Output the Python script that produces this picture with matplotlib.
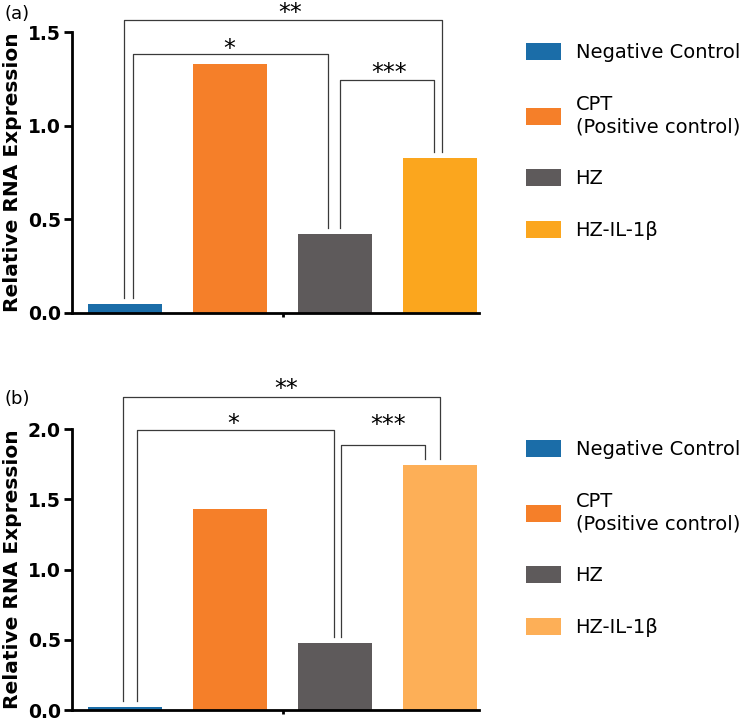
import matplotlib
matplotlib.use("Agg")
import matplotlib.pyplot as plt
from matplotlib.patches import Patch

# ---------------- data ----------------
categories = ["Negative Control", "CPT\n(Positive control)", "HZ", "HZ-IL-1β"]
values_a = [0.045, 1.33, 0.42, 0.825]
values_b = [0.02, 1.43, 0.475, 1.745]
colors_a = ["#1B6DA8", "#F57F29", "#5E5A5B", "#FBA61E"]
colors_b = ["#1B6DA8", "#F57F29", "#5E5A5B", "#FDAF57"]
yticks_a = [0.0, 0.5, 1.0, 1.5]
yticks_b = [0.0, 0.5, 1.0, 1.5, 2.0]
# significance brackets: (left bar, right bar, bracket height, label)
brackets_a = [(0, 3, 1.564, "**"), (0, 2, 1.384, "*"), (2, 3, 1.243, "***")]
brackets_b = [(0, 3, 2.228, "**"), (0, 2, 1.996, "*"), (2, 3, 1.889, "***")]

plt.rcParams["font.family"] = ["DejaVu Sans"]

W, H = 748, 720
fig = plt.figure(figsize=(W / 100, H / 100), dpi=100)


def px_box(left, right, top, bottom):
    return [left / W, 1 - bottom / H, (right - left) / W, (bottom - top) / H]


def panel(box, values, colors, yticks, brackets, leg_top, tag, tag_y,
          leg_offsets, star_pos):
    ax = fig.add_axes(box)
    x = list(range(len(values)))
    ax.bar(x, values, width=0.705, color=colors, edgecolor="none")
    ymax = yticks[-1]
    ax.set_ylim(0, ymax)
    ax.set_xlim(-0.505, 3.37)
    ax.set_yticks(yticks)
    ax.set_yticklabels([f"{t:.1f}" for t in yticks], fontsize=13.5,
                       fontweight="bold")
    ax.set_xticks([1.5])
    ax.set_xticklabels([""])
    ax.tick_params(axis="x", length=3, width=2)
    ax.tick_params(axis="y", length=6, width=2, pad=2)
    for s in ["top", "right"]:
        ax.spines[s].set_visible(False)
    for s in ["left", "bottom"]:
        ax.spines[s].set_linewidth(2)
    ax.set_ylabel("Relative RNA Expression", fontsize=14.5, fontweight="bold")
    ax.yaxis.set_label_coords(-0.1225, 0.5)

    gap = 0.022 * ymax
    for (i, j, lvl, lab), (dl, dr), (sx, sy) in zip(brackets, leg_offsets,
                                                    star_pos):
        xl, xr = i + dl, j + dr
        ax.plot([xl, xl, xr, xr],
                [values[i] + gap, lvl, lvl, values[j] + gap],
                color="#3a3a3a", lw=0.9, clip_on=False)
        ax.text(sx, sy, lab, ha="center", va="center", fontsize=17,
                clip_on=False)

    handles = [Patch(facecolor=c, edgecolor="none") for c in colors]
    ax.legend(handles, categories, loc="upper left",
              bbox_to_anchor=(526 / W, 1 - leg_top / H),
              bbox_transform=fig.transFigure, frameon=False, fontsize=14,
              handlelength=1.8, handleheight=0.95, handletextpad=0.75,
              labelspacing=1.7, borderpad=0, borderaxespad=0)
    fig.text(4 / W, 1 - tag_y / H, tag, fontsize=13, ha="left", va="center")
    return ax


panel(px_box(72, 479, 32, 312.7), values_a, colors_a, yticks_a, brackets_a,
      43, "(a)", 14,
      [(-0.012, 0.02), (0.08, -0.07), (0.05, -0.06)],
      [(1.57, 1.60), (0.99, 1.41), (2.51, 1.28)])
panel(px_box(72, 479, 429.3, 710), values_b, colors_b, yticks_b, brackets_b,
      440, "(b)", 399,
      [(-0.016, 0.0), (0.11, -0.01), (0.06, -0.14)],
      [(1.53, 2.29), (1.03, 2.04), (2.50, 2.03)])

fig.savefig("out.png", dpi=100)
